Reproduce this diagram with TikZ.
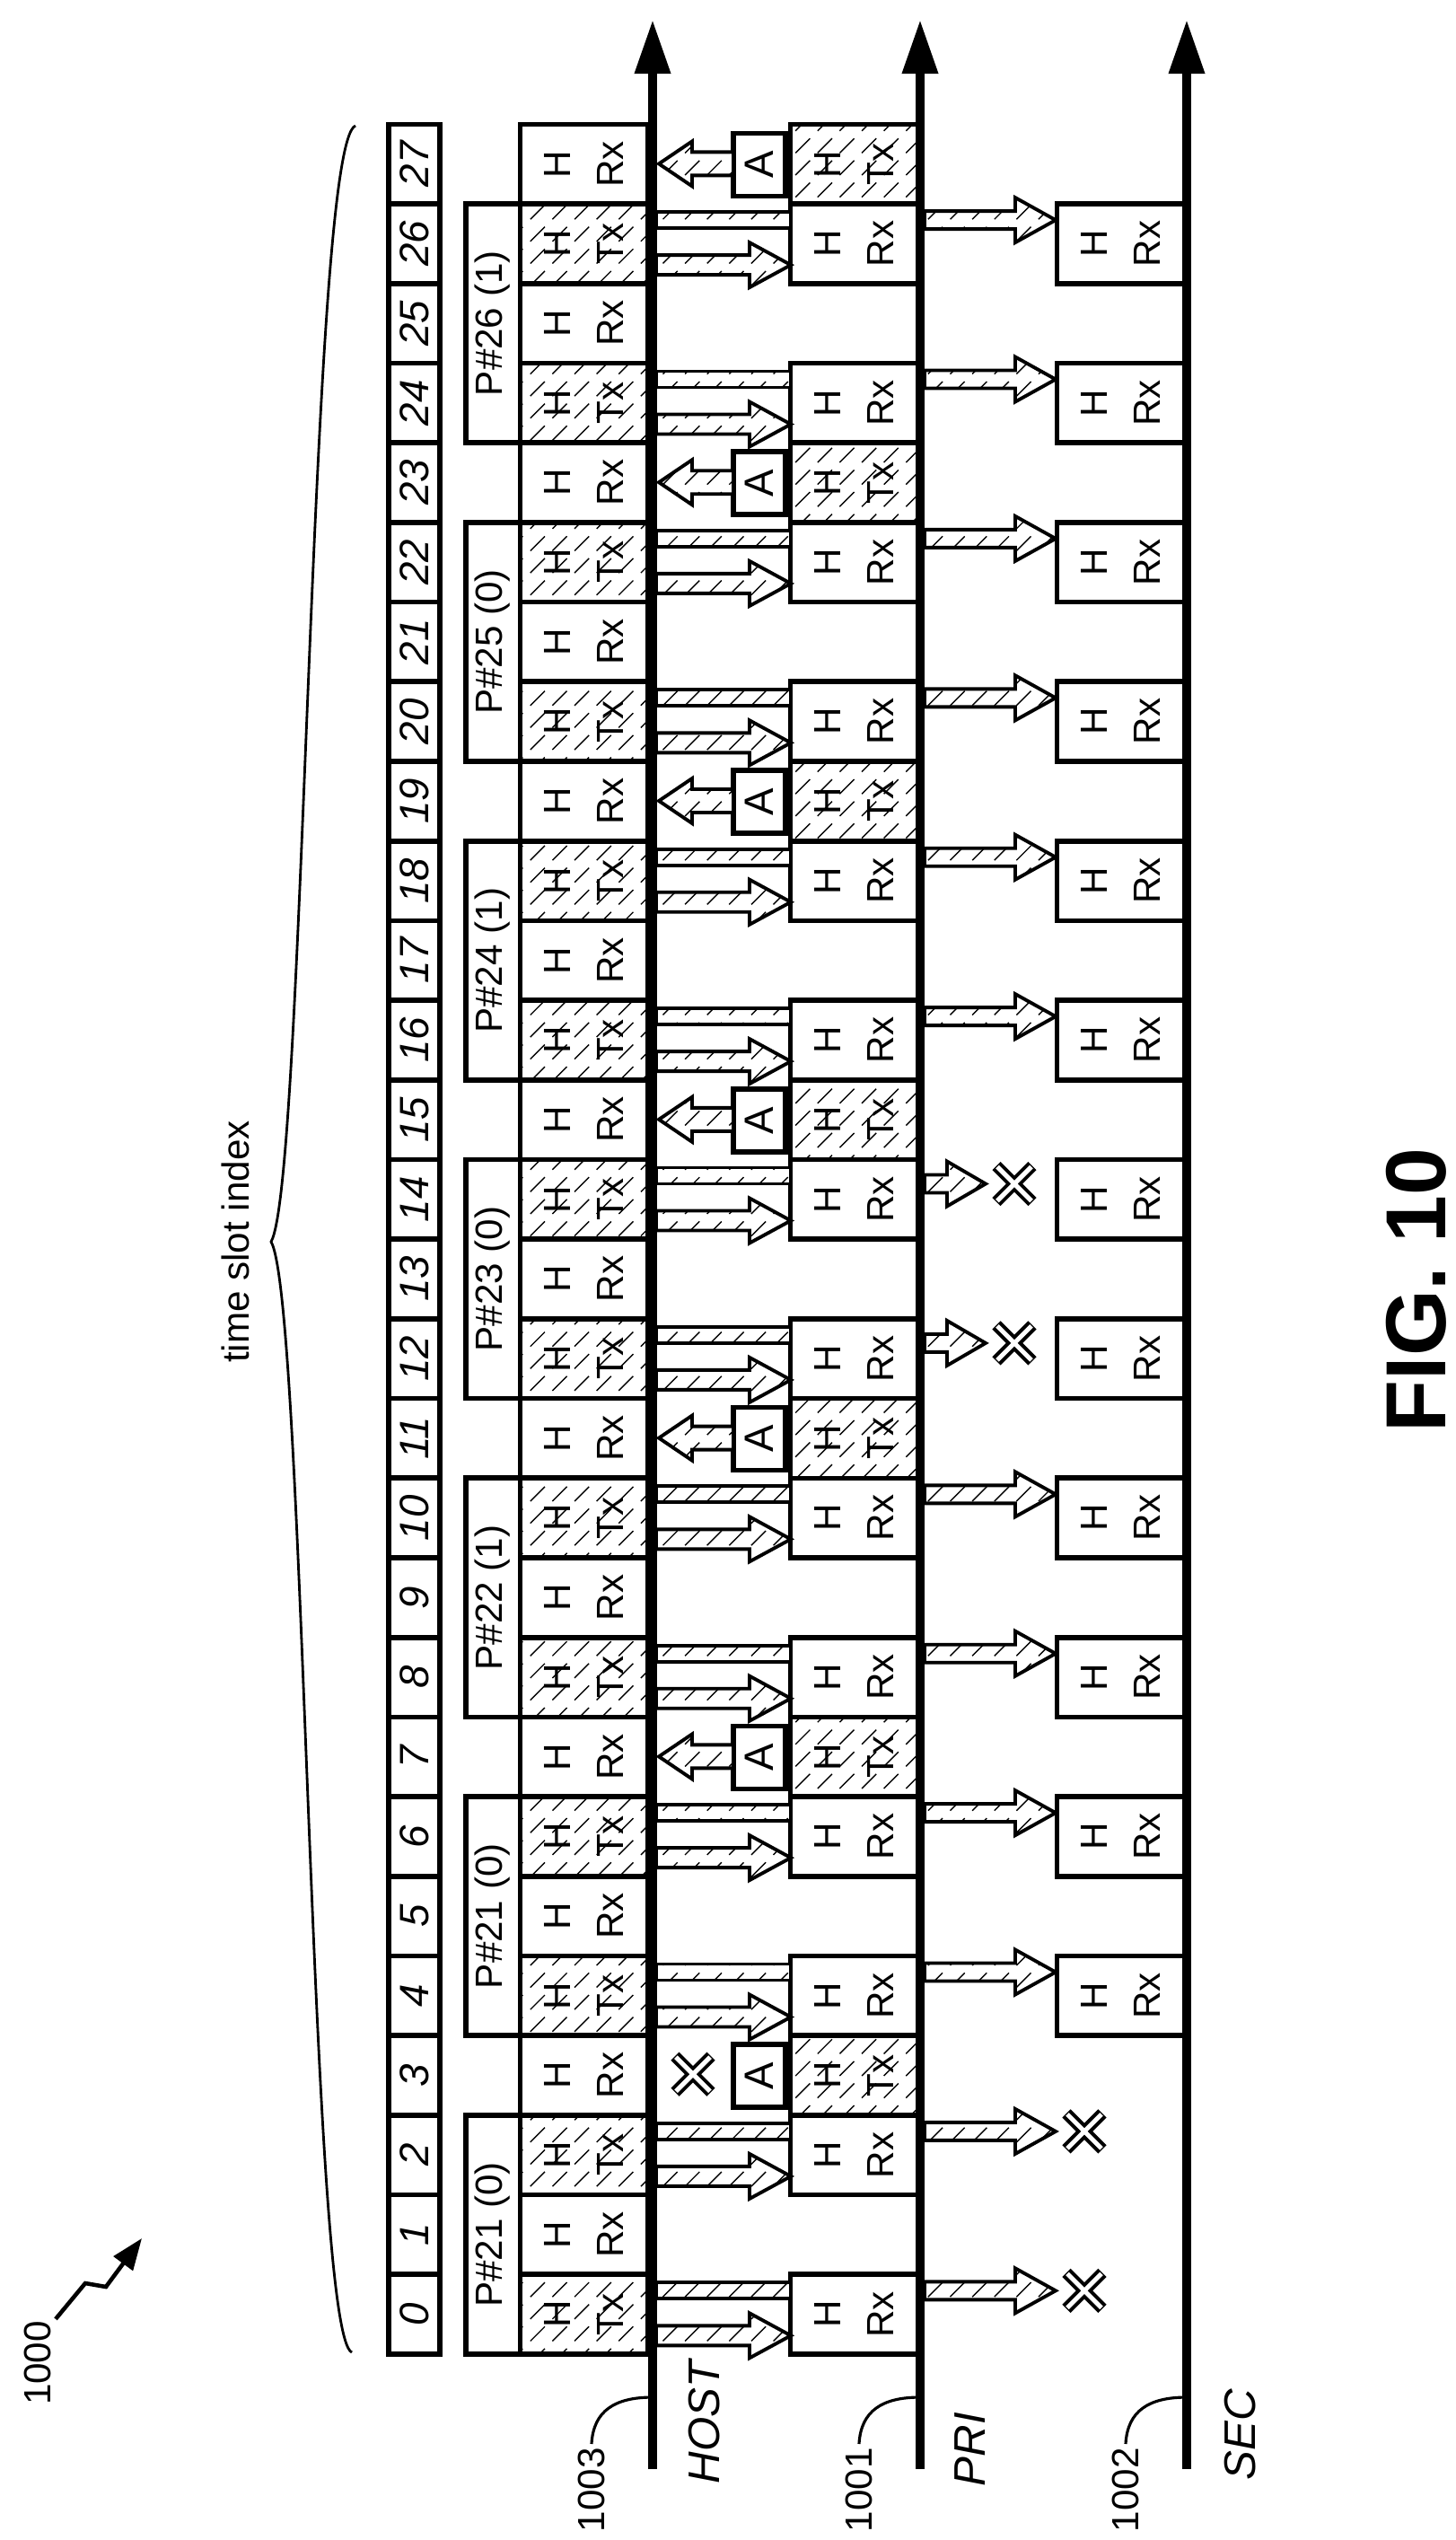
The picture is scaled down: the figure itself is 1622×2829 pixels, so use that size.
\documentclass[tikz,border=0pt]{standalone}
\usepackage{fontspec}
\setmainfont{Liberation Sans}
\usetikzlibrary{arrows.meta, patterns}
\pgfdeclarepatternformonly{dhatch}{\pgfqpoint{-1pt}{-1pt}}{\pgfqpoint{8pt}{8pt}}{\pgfqpoint{7pt}{7pt}}{%
  \pgfsetlinewidth{0.4pt}%
  \pgfpathmoveto{\pgfqpoint{0pt}{0pt}}\pgfpathlineto{\pgfqpoint{4.6pt}{4.6pt}}\pgfusepath{stroke}}
\tikzset{
  slot/.style={draw, line width=1.6pt, minimum width=0.57cm, minimum height=0.887cm, inner sep=0},
  hbox/.style={draw, line width=1.6pt, minimum width=1.42cm, minimum height=0.887cm, inner sep=0},
  hatch/.style={preaction={fill=white}, pattern=dhatch},
  txt/.style={rotate=90, align=center, font=\fontsize{12}{17}\selectfont, inner sep=0},
  num/.style={rotate=90, font=\itshape\fontsize{13}{15}\selectfont, inner sep=0},
  barr/.style={draw, line width=1.1pt, preaction={fill=white}, pattern=dhatch},
  axis/.style={line width=2.8pt, -{Triangle[length=6mm,width=3.8mm]}},
  ref/.style={rotate=90, font=\fontsize{12}{14}\selectfont, inner sep=1pt}
}
% x0, xtip, yc, half shaft, half head, head base
\newcommand\blockarr[6]{%
  \filldraw[barr] (#1,#3-#4) -- (#6,#3-#4) -- (#6,#3-#5) -- (#2,#3) -- (#6,#3+#5) -- (#6,#3+#4) -- (#1,#3+#4) -- cycle;}
\newcommand\lostmark[2]{%
  \draw[line width=0.13cm] (#1-20,#2-20) -- (#1+20,#2+20) (#1-20,#2+20) -- (#1+20,#2-20);
  \draw[line width=0.05cm, white] (#1-19,#2-19) -- (#1+19,#2+19) (#1-19,#2+19) -- (#1+19,#2-19);}
\begin{document}
\begin{tikzpicture}[x=0.01cm, y=-0.01cm]
  \useasboundingbox (0,0) rectangle (1622,2829);

  % axes
  \coordinate (hostB) at (727,2750); \coordinate (hostT) at (727,22);
  \coordinate (priB) at (1025,2750); \coordinate (priT) at (1025,22);
  \coordinate (secB) at (1322,2750); \coordinate (secT) at (1322,22);

  % packet frames
  \foreach \k/\p in {0/P\#21 (0), 4/P\#21 (0), 8/P\#22 (1), 12/P\#23 (0), 16/P\#24 (1), 20/P\#25 (0), 24/P\#26 (1)}{
    \pgfmathsetmacro\yc{2622-(\k+1.5)*88.7}
    \node[draw, line width=1.6pt, minimum width=2.03cm, minimum height=2.66cm] (pk\k) at (620.5,\yc) {};
    \node[txt] at (549,\yc) {\p};
  }

  % time slots
  \foreach \k in {0,...,27}{
    \pgfmathsetmacro\yc{2622-(\k+0.5)*88.7}
    \pgfmathsetmacro\yt{2622-(\k+1)*88.7}
    \pgfmathtruncatemacro\r{mod(\k,4)}
    \node[slot] (s\k) at (461.5,\yc) {};
    \node[num] at (s\k) {\k};
    \ifodd\k
      \node[hbox] (h\k) at (650.5,\yc) {};
      \node[txt] at (h\k) {H\\Rx};
    \else
      \node[hbox, hatch] (h\k) at (650.5,\yc) {};
      \node[txt] at (h\k) {H\\Tx};
      \node[hbox] (p\k) at (951.5,\yc) {};
      \node[txt] at (p\k) {H\\Rx};
      \filldraw[barr] (731,\yt+9) rectangle (881,\yt+27);
      \blockarr{731}{881}{\yt+68}{11}{25}{835}
    \fi
    \ifnum\r=3
      \node[hbox, hatch] (p\k) at (951.5,\yc) {};
      \node[txt] at (p\k) {H\\Tx};
      \node[draw, line width=1.6pt, fill=white, minimum width=0.58cm, minimum height=0.7cm, inner sep=0] (a\k) at (846,\yt+45) {};
      \node[txt, font=\fontsize{13}{15}\selectfont] at (a\k) {A};
      \ifnum\k>3
        \blockarr{817}{734}{\yt+44}{13}{25}{771}
      \else
        \lostmark{772}{\yt+43}
      \fi
    \fi
  }

  % secondary
  \foreach \k in {4,6,...,26}{
    \pgfmathsetmacro\yc{2622-(\k+0.5)*88.7}
    \node[hbox] (q\k) at (1248.5,\yc) {};
    \node[txt] at (q\k) {H\\Rx};
  }
  \foreach \k in {0,2,4,6,8,10,16,18,20,22,24,26}{
    \pgfmathsetmacro\yt{2622-(\k+1)*88.7}
    \blockarr{1030}{1176}{\yt+18}{10}{25}{1131}
  }
  \foreach \k in {0,2}{
    \pgfmathsetmacro\yt{2622-(\k+1)*88.7}
    \lostmark{1208}{\yt+18}
  }
  \foreach \k in {12,14}{
    \pgfmathsetmacro\yt{2622-(\k+1)*88.7}
    \blockarr{1030}{1098}{\yt+27}{10}{25}{1055}
    \lostmark{1130}{\yt+27}
  }

  \draw[axis] (hostB) -- (hostT);
  \draw[axis] (priB) -- (priT);
  \draw[axis] (secB) -- (secT);

  % labels
  \node[rotate=90, font=\itshape\fontsize{14}{16}\selectfont] at (785,2698) {HOST};
  \node[rotate=90, font=\itshape\fontsize{14}{16}\selectfont] at (1081,2728) {PRI};
  \node[rotate=90, font=\itshape\fontsize{14}{16}\selectfont] at (1382,2712) {SEC};
  \node[ref, anchor=east] (n1003) at (659,2722) {1003};
  \node[ref, anchor=east] (n1001) at (957,2722) {1001};
  \node[ref, anchor=east] (n1002) at (1254,2722) {1002};
  \draw[line width=0.9pt] (n1003.east) .. controls (661,2685) and (685,2670) .. (hostB |- 0,2670);
  \draw[line width=0.9pt] (n1001.east) .. controls (959,2685) and (983,2670) .. (priB |- 0,2670);
  \draw[line width=0.9pt] (n1002.east) .. controls (1256,2685) and (1280,2670) .. (secB |- 0,2670);

  \node[ref] (n1000) at (42,2632) {1000};
  \draw[line width=1.3pt, -{Triangle[length=3.5mm,width=2.6mm]}] (n1000.east) ++(20,2) -- (95,2543) -- (118,2547) -- (158,2493);

  \draw[line width=0.8pt] (392,2620) .. controls (345,2600) and (340,1450) .. (302,1383) .. controls (340,1316) and (345,160) .. (396,140);
  \node[rotate=90, font=\fontsize{12}{14}\selectfont] (tsi) at (262,1383) {time slot index};

  \node[rotate=90, font=\bfseries\fontsize{27}{30}\selectfont] (fig) at (1578,1437) {FIG. 10};
\end{tikzpicture}
\end{document}
